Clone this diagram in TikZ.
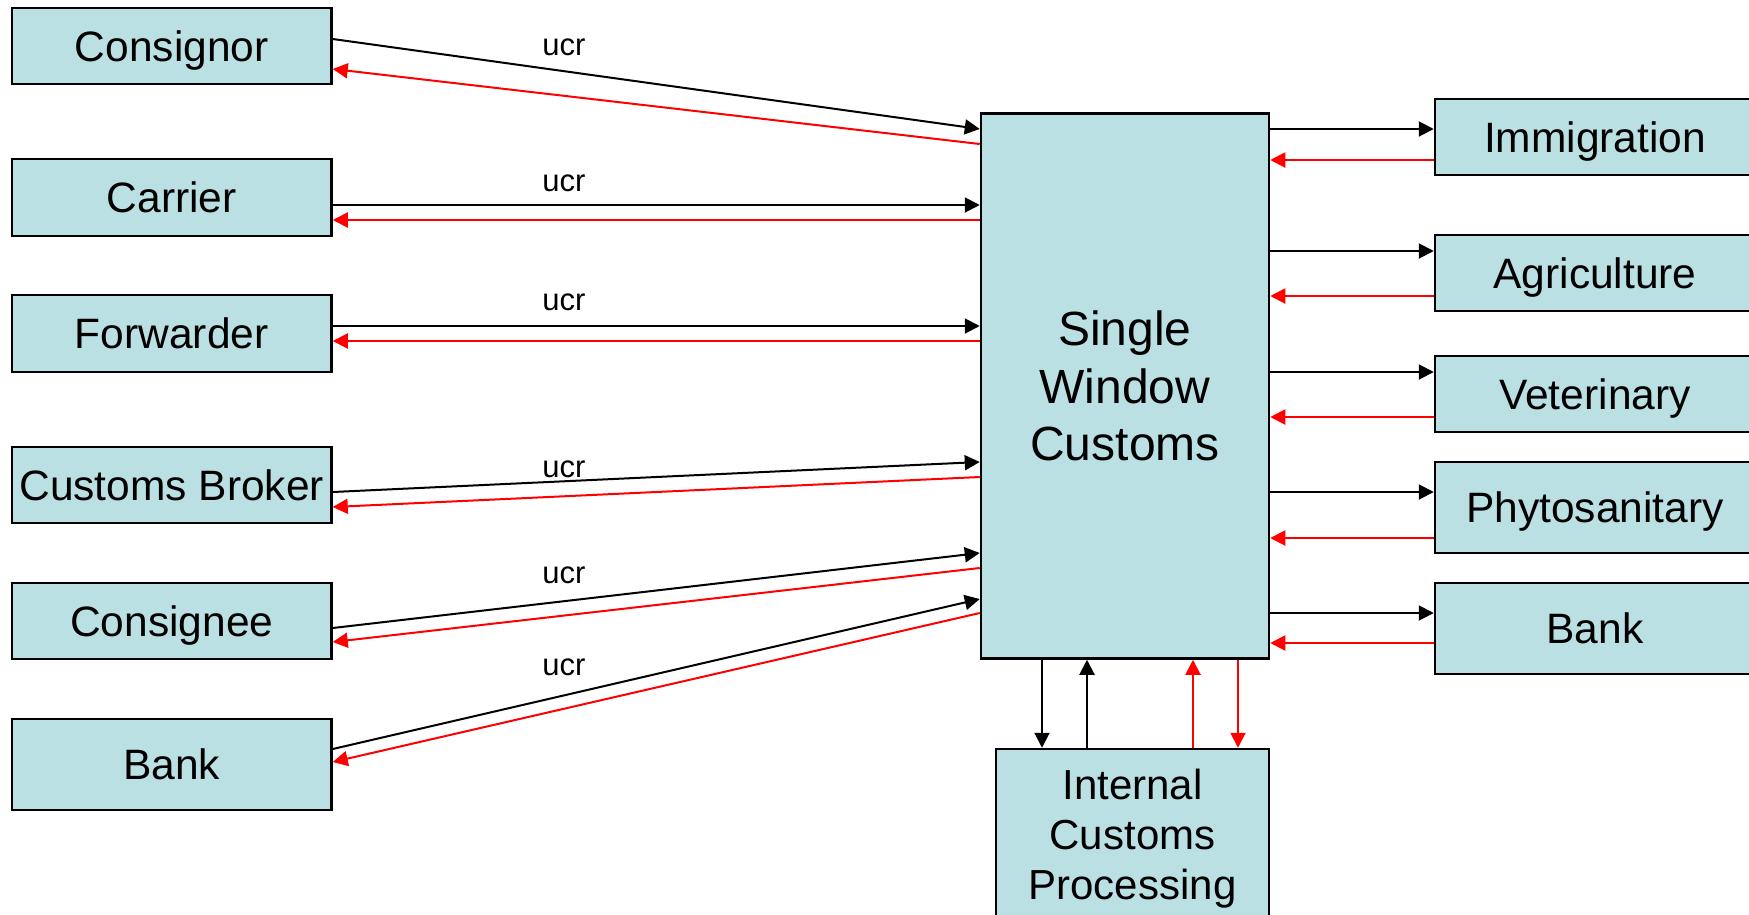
\documentclass[tikz,border=0pt]{standalone}
\usepackage{fontspec}
\setmainfont{Liberation Sans}
\usetikzlibrary{arrows.meta}
\definecolor{boxfill}{RGB}{187,224,227}
\tikzset{
	party/.style={draw,line width=2.5pt,fill=boxfill,inner sep=0pt,text depth=0pt,font=\fontsize{42.5}{51}\selectfont},
	ask/.style={line width=2pt,-{Triangle[length=15pt,width=15pt]}},
	reply/.style={ask,red},
	tag/.style={anchor=base,font=\fontsize{31}{37}\selectfont}
}

\begin{document}
\begin{tikzpicture}[x=1pt,y=-1pt]
			\clip (0,0) rectangle (1749,914);
			\node[party,minimum width=288pt,minimum height=545pt,align=center,font=\fontsize{48}{57.5}\selectfont] (swc) at (1125,386) {Single\\Window\\Customs};
			\node[party,minimum width=273pt,minimum height=170pt,align=center,font=\fontsize{42}{50}\selectfont] (icp) at (1132.5,834) {Internal\\Customs\\Processing};
			% traders on the left, ucr goes in, answers come back in red
			\foreach \n/\t/\y/\h/\a/\b/\c/\d/\u in {cgr/Consignor/46/76/39/129/144/69/55,car/Carrier/197.5/77/205/205/220/220/191,fwd/Forwarder/333.5/77/326/326/341/341/310,brk/Customs Broker/485/76/492/462/477/507/477,cge/Consignee/621/76/628/553/568/642/583,bnk/Bank/764.5/91/749/599/613/762/675} {
				\node[party,minimum width=319.5pt,minimum height=\h pt] (\n) at (171.75,\y) {\t};
				\node[tag] (u\n) at (564,\u) {ucr};
				\draw[ask] (\n.east|-0,\a) -- (swc.west|-0,\b);
				\draw[reply] (swc.west|-0,\c) -- (\n.east|-0,\d);
			}
			% agencies on the right
			\foreach \n/\t/\y/\h/\a/\b in {imm/Immigration/137/76/129/160,agr/Agriculture/273/76/251/296,vet/Veterinary/394/76/372/417,phy/Phytosanitary/507.5/91/492/538,rbk/Bank/628.5/91/613/643} {
				\node[party,minimum width=320pt,minimum height=\h pt] (\n) at (1595,\y) {\t};
				\draw[ask] (swc.east|-0,\a) -- (\n.west|-0,\a);
				\draw[reply] (\n.west|-0,\b) -- (swc.east|-0,\b);
			}
			\draw[ask] (swc.south-|1042,0) -- (icp.north-|1042,0);
			\draw[ask] (icp.north-|1087,0) -- (swc.south-|1087,0);
			\draw[reply] (icp.north-|1193,0) -- (swc.south-|1193,0);
			\draw[reply] (swc.south-|1238,0) -- (icp.north-|1238,0);
		\end{tikzpicture}
\end{document}
